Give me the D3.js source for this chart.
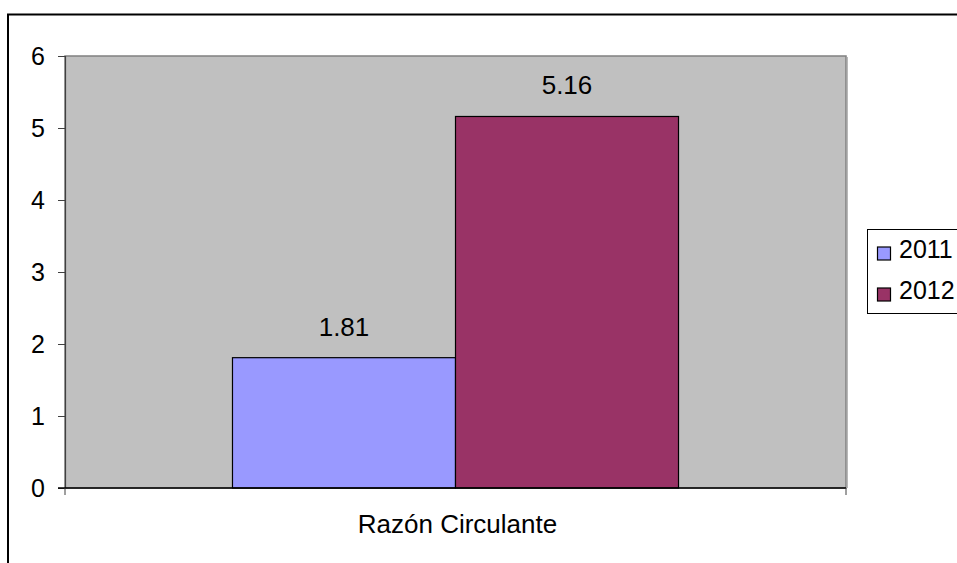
<!DOCTYPE html>
<html><head><meta charset="utf-8">
<script src="https://cdn.jsdelivr.net/npm/d3@7"></script>
<style>body{margin:0;background:#fff}svg{display:block}text{font-family:"Liberation Sans",Arial,sans-serif;fill:#000}</style>
</head><body>
<svg id="c" width="957" height="563"></svg>
<script>
const categories = ["Razón Circulante"];
const series = ["2011", "2012"];
const values2011 = [1.81];
const values2012 = [5.16];
const yTicks = [0, 1, 2, 3, 4, 5, 6];
const colors = ["#9999FF", "#993366"];

const data = categories.map((c, i) => ({cat: c, vals: [values2011[i], values2012[i]]}));
const svg = d3.select("#c");
const L = 65, R = 846, T = 56, B = 488;

// outer border
svg.append("rect").attr("x", 8).attr("y", 14.5).attr("width", 1000).attr("height", 600)
  .attr("fill", "none").attr("stroke", "#000").attr("stroke-width", 2);

const y = d3.scaleLinear().domain([0, 6]).range([B, T]);
const x0 = d3.scaleBand().domain(categories).range([L, R]).padding(0);
const x1 = d3.scaleBand().domain(series).range([0, x0.bandwidth()]).paddingInner(0).paddingOuter(0.751);

// plot area
svg.append("rect").attr("x", L).attr("y", T).attr("width", R - L).attr("height", B - T)
  .attr("fill", "#C0C0C0").attr("stroke", "#808080").attr("stroke-width", 1.5);
svg.append("line").attr("x1", R + 1).attr("x2", R + 1).attr("y1", T + 1).attr("y2", B)
  .attr("stroke", "#a0a0a0").attr("stroke-width", 1.5);

// bars
const g = svg.append("g");
data.forEach(d => {
  d.vals.forEach((v, j) => {
    const bx = x0(d.cat) + x1(series[j]);
    g.append("rect").attr("x", bx).attr("y", y(v)).attr("width", x1.bandwidth()).attr("height", y(0) - y(v))
      .attr("fill", colors[j]).attr("stroke", "#000").attr("stroke-width", 1.2);
    g.append("text").attr("x", bx + x1.bandwidth() / 2).attr("y", y(v) - 22)
      .attr("text-anchor", "middle").attr("font-size", 26).text(v.toFixed(2));
  });
});

// y axis
const yAxis = svg.append("g").attr("transform", `translate(${L},0)`)
  .call(d3.axisLeft(y).tickValues(yTicks).tickSize(7).tickPadding(13).tickFormat(d3.format("d")));
yAxis.select(".domain").attr("stroke", "#404040").attr("stroke-width", 1.2);
yAxis.selectAll(".tick line").attr("stroke", "#404040");
yAxis.selectAll("text").attr("font-size", 25).style("font-family", '"Liberation Sans",Arial,sans-serif');

// x axis
svg.append("line").attr("x1", L - 7).attr("x2", R).attr("y1", B).attr("y2", B).attr("stroke", "#000").attr("stroke-width", 1.5);
categories.forEach(c => {
  [x0(c), x0(c) + x0.bandwidth()].forEach(px => {
    svg.append("line").attr("x1", px).attr("x2", px).attr("y1", B).attr("y2", B + 7).attr("stroke", "#404040");
  });
  svg.append("text").attr("x", x0(c) + x0.bandwidth() / 2 + 2).attr("y", 533)
    .attr("text-anchor", "middle").attr("font-size", 26).text(c);
});

// legend
const leg = svg.append("g");
leg.append("rect").attr("x", 867.5).attr("y", 229.5).attr("width", 120).attr("height", 84)
  .attr("fill", "#fff").attr("stroke", "#000").attr("stroke-width", 1);
series.forEach((s, i) => {
  const yy = 247 + i * 41;
  leg.append("rect").attr("x", 877.5).attr("y", yy).attr("width", 13).attr("height", 13)
    .attr("fill", colors[i]).attr("stroke", "#000").attr("stroke-width", 1.2);
  leg.append("text").attr("x", 899).attr("y", yy + 11).attr("font-size", 25).text(s);
});
</script>
</body></html>
